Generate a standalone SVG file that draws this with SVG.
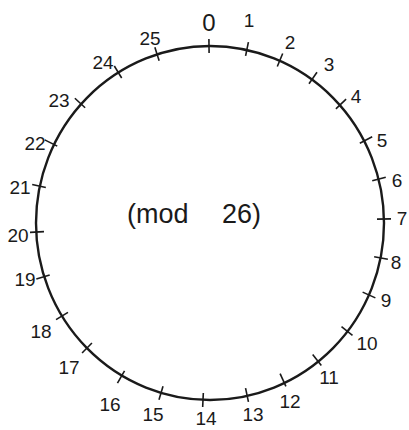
<svg xmlns="http://www.w3.org/2000/svg" width="409" height="430" viewBox="0 0 409 430">
<style>
.circ{fill:none;stroke:#1a1a1a;stroke-width:2.4}
.tk{stroke:#1a1a1a;stroke-width:1.6}
.lb{font-family:"Liberation Sans",Arial,sans-serif;font-size:19px;fill:#1a1a1a;text-anchor:middle;dominant-baseline:central}
.md{font-family:"Liberation Sans",Arial,sans-serif;font-size:27px;fill:#1a1a1a;dominant-baseline:central}
</style>
<defs><line id="t" x1="-7" y1="0" x2="7" y2="0" class="tk"/></defs>
<g id="circle"><ellipse class="circ" cx="210" cy="223" rx="174" ry="177"/></g>
<g id="ticks">
<use href="#t" transform="translate(209,46) rotate(-90.7)"/>
<use href="#t" transform="translate(247,49) rotate(-78.4)"/>
<use href="#t" transform="translate(280,60) rotate(-67.3)"/>
<use href="#t" transform="translate(313,78) rotate(-55.2)"/>
<use href="#t" transform="translate(341,104) rotate(-43.2)"/>
<use href="#t" transform="translate(366,140) rotate(-28.2)"/>
<use href="#t" transform="translate(379,179) rotate(-14.8)"/>
<use href="#t" transform="translate(384,219) rotate(-1)"/>
<use href="#t" transform="translate(381,258) rotate(11)"/>
<use href="#t" transform="translate(369,295) rotate(24.2)"/>
<use href="#t" transform="translate(347,331) rotate(38.5)"/>
<use href="#t" transform="translate(317,360) rotate(51.8)"/>
<use href="#t" transform="translate(283,380) rotate(65.5)"/>
<use href="#t" transform="translate(247,395) rotate(78.1)"/>
<use href="#t" transform="translate(203,400) rotate(92.6)"/>
<use href="#t" transform="translate(161,393) rotate(106.8)"/>
<use href="#t" transform="translate(121,377) rotate(120.3)"/>
<use href="#t" transform="translate(87,348) rotate(135)"/>
<use href="#t" transform="translate(62,316) rotate(148.6)"/>
<use href="#t" transform="translate(43,277) rotate(162.9)"/>
<use href="#t" transform="translate(37,232) rotate(177.3)"/>
<use href="#t" transform="translate(39,186) rotate(192.7)"/>
<use href="#t" transform="translate(51,143) rotate(206.4)"/>
<use href="#t" transform="translate(80,103) rotate(222.7)"/>
<use href="#t" transform="translate(118,72) rotate(238.3)"/>
<use href="#t" transform="translate(157,54) rotate(252.3)"/>
</g>
<g id="labels">
<text class="lb" x="209" y="22" style="font-size:24px">0</text>
<text class="lb" x="249" y="20">1</text>
<text class="lb" x="290" y="42">2</text>
<text class="lb" x="329" y="64">3</text>
<text class="lb" x="356" y="96">4</text>
<text class="lb" x="382" y="140">5</text>
<text class="lb" x="397" y="180">6</text>
<text class="lb" x="402" y="218">7</text>
<text class="lb" x="396" y="262">8</text>
<text class="lb" x="386" y="300">9</text>
<text class="lb" x="367" y="343">10</text>
<text class="lb" x="329" y="377">11</text>
<text class="lb" x="290" y="401">12</text>
<text class="lb" x="253" y="414">13</text>
<text class="lb" x="206" y="418">14</text>
<text class="lb" x="153" y="414">15</text>
<text class="lb" x="110" y="404">16</text>
<text class="lb" x="69" y="367">17</text>
<text class="lb" x="41" y="331">18</text>
<text class="lb" x="25" y="279">19</text>
<text class="lb" x="18" y="235">20</text>
<text class="lb" x="20" y="187">21</text>
<text class="lb" x="35" y="143">22</text>
<text class="lb" x="59" y="100">23</text>
<text class="lb" x="103" y="62">24</text>
<text class="lb" x="150" y="38">25</text>
<text class="md" y="214"><tspan x="127">(mod</tspan><tspan x="222">26)</tspan></text>
</g>
</svg>
